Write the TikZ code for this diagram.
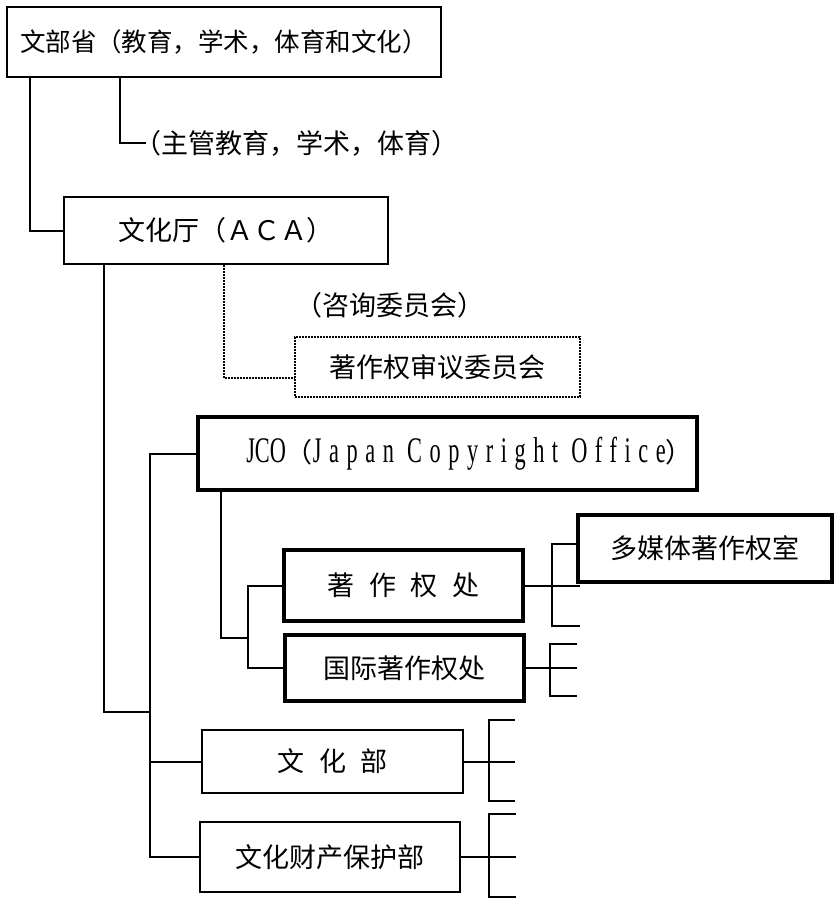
\documentclass[tikz,border=0pt]{standalone}
\usepackage{fontspec}
\setmainfont{Noto Sans CJK SC}
\newfontfamily\latnarrow[FakeStretch=0.62]{Liberation Serif}
\newfontfamily\latspaced[FakeStretch=0.62,LetterSpace=21]{Liberation Serif}
\usepackage{tikz}
\usetikzlibrary{calc}
\tikzset{box/.style={shape=rectangle, draw, line width=2pt, inner sep=0pt,
    font=\fontsize{27}{32}\selectfont}}
\tikzset{heavybox/.style={box, line width=3.6pt}}
\tikzset{dotbox/.style={box, densely dotted, line width=1.6pt}}
\tikzset{note/.style={inner sep=0pt, font=\fontsize{27}{32}\selectfont}}
\tikzset{link/.style={draw, line width=2pt}}
\newcommand{\cgap}{\hspace{0.55em}}

\begin{document}
\begin{tikzpicture}[x=1pt, y=-1pt]
  \useasboundingbox (0,0) rectangle (835,898);
  \node[box, font=\fontsize{25.5}{30}\selectfont, minimum width=434pt, minimum height=70pt] (mext) at (224,42) {文部省（教育，学术，体育和文化）};
  \node[note, anchor=west] (kanri) at (134,143) {（主管教育，学术，体育）};
  \node[box, minimum width=324pt, minimum height=67pt] (aca) at (226,230.5) {文化厅（ＡＣＡ）};
  \node[note] (advice) at (390,305) {（咨询委员会）};
  \node[dotbox, minimum width=285pt, minimum height=60pt] (shingi) at (437.5,367) {著作权审议委员会};
  \node[heavybox, minimum width=499pt, minimum height=73pt] (jco) at (447.5,453.5)
     {\hspace*{44pt}{\fontsize{36}{40}\latnarrow JCO}（{\fontsize{36}{40}\latspaced Japan Copyright Office}）};
  \node[heavybox, minimum width=239pt, minimum height=71pt] (chosaku) at (403.5,585.5) {著\cgap 作\cgap 权\cgap 处};
  \node[heavybox, minimum width=239pt, minimum height=66pt] (kokusai) at (404.5,668) {国际著作权处};
  \node[heavybox, minimum width=254pt, minimum height=67pt] (multi) at (705,548.5) {多媒体著作权室};
  \node[box, minimum width=261pt, minimum height=63pt] (bunka) at (332.5,761.5) {文\cgap 化\cgap 部};
  \node[box, minimum width=260pt, minimum height=70pt] (hogo) at (330,857) {文化财产保护部};

  \coordinate (bus) at (150,712);
  \coordinate (jbus) at (248,638);
  \coordinate (cR) at ([xshift=27pt]chosaku.east);

  \path[link] ([xshift=24pt]mext.south west) |- (aca.west);
  \path[link] ([xshift=114pt]mext.south west) |- ([xshift=12pt]kanri.west);
  \path[link, densely dotted, line width=1.6pt] ([xshift=161pt]aca.south west) |- ([yshift=-11pt]shingi.west);
  \path[link] ([xshift=41pt]aca.south west) |- (bus);
  \path[link] (jco.west) -| (bus) |- (hogo.west);
  \path[link] (bunka.west) -- (bunka.west -| bus);
  \path[link] ([xshift=25pt]jco.south west) |- (jbus);
  \path[link] (chosaku.west) -| (jbus) |- (kokusai.west);

  \path[link] (chosaku.east) -- ++(55,0);
  \path[link] ([yshift=5pt]multi.west) -| (cR) -- ++(0,40) -- ++(28,0);
  \path[link] (kokusai.east) -- ++(51,0);
  \path[link] ([xshift=51pt,yshift=24pt]kokusai.east) -- ++(-27,0) -- ++(0,52) -- ++(27,0);
  \path[link] (bunka.east) -- ++(51,0);
  \path[link] ([xshift=51pt,yshift=42pt]bunka.east) -- ++(-26,0) -- ++(0,81) -- ++(26,0);
  \path[link] (hogo.east) -- ++(55,0);
  \path[link] ([xshift=55pt,yshift=43pt]hogo.east) -- ++(-27,0) -- ++(0,83) -- ++(27,0);
\end{tikzpicture}
\end{document}
